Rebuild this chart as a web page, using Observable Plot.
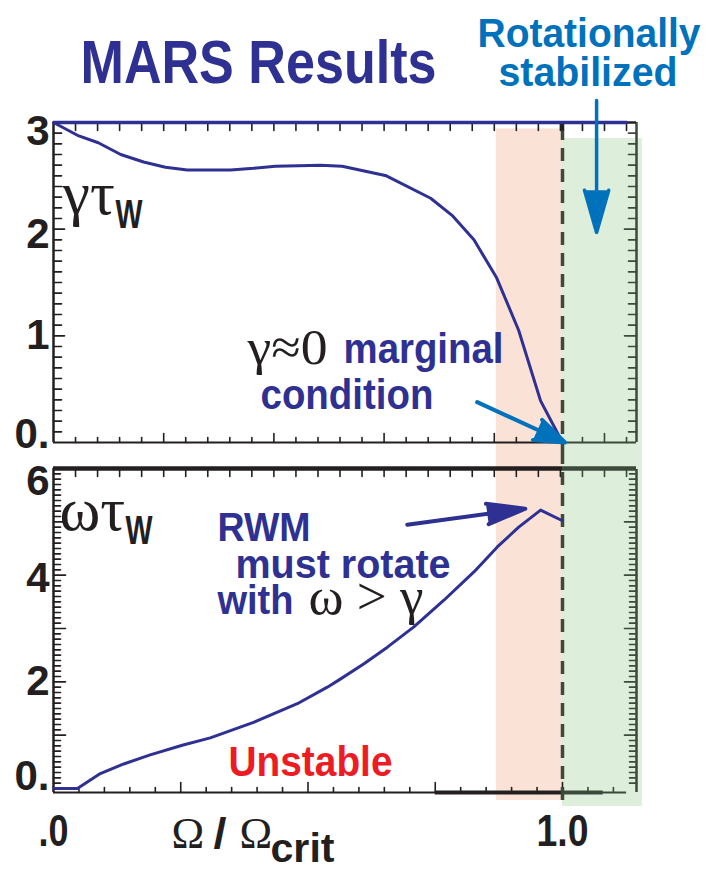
<!DOCTYPE html>
<html><head><meta charset="utf-8">
<script src="https://cdn.jsdelivr.net/npm/d3@7"></script>
<script src="https://cdn.jsdelivr.net/npm/@observablehq/plot@0.6"></script>
<style>
html,body{margin:0;padding:0;background:#fff;}
#chart{position:relative;width:715px;height:870px;overflow:hidden;}
#chart svg{position:absolute;left:0;overflow:visible;}
</style></head><body><div id="chart"></div>
<script>
// ---------- data ----------
const growthX   = [0, 0.047, 0.088, 0.132, 0.177, 0.22, 0.263, 0.348, 0.393, 0.436, 0.525, 0.567, 0.654, 0.741, 0.783, 0.826, 0.870, 0.914, 0.957, 1.0];
const growthY   = [3.0, 2.88, 2.81, 2.70, 2.63, 2.58, 2.555, 2.555, 2.57, 2.59, 2.60, 2.59, 2.50, 2.29, 2.13, 1.90, 1.55, 1.05, 0.39, 0.0];
const rotationX = [0, 0.047, 0.092, 0.138, 0.19, 0.253, 0.308, 0.393, 0.479, 0.538, 0.565, 0.61, 0.656, 0.708, 0.767, 0.826, 0.872, 0.914, 0.957, 1.0];
const rotationY = [0, 0, 0.28, 0.46, 0.63, 0.81, 0.95, 1.24, 1.59, 1.90, 2.06, 2.34, 2.65, 3.03, 3.53, 4.06, 4.53, 4.90, 5.22, 5.02];
const growthCeiling = [3];          // γτw level drawn across the top
const unstableBand = [0.87, 1.0];   // Ω/Ωcrit range shaded salmon
const stableBand   = [1.0, 1.157];  // Ω/Ωcrit range shaded green
const criticalRot  = [1.0];
const topYTicks    = [0, 1, 2, 3];
const bottomYTicks = [0, 2, 4, 6];
const xTickValues  = [0, 1];
const xTickLabels  = [".0", "1.0"];

// ---------- styles ----------
const NAVY = "#2e3192", BLUE = "#0072bc", RED = "#ed1c24", INK = "#231f20";
const SALMON = "#fbe2d6", GREEN = "#ddeedb", DKGREEN = "#3b4a3b";
const NARROW = "'Liberation Sans Narrow', 'Liberation Sans', Arial, sans-serif";
const SANS = "'Liberation Sans', Arial, sans-serif";
const SERIF = "'Liberation Serif', 'DejaVu Serif', serif";
const X_MAX = 1.1454;
// rendered widths (px) of the condensed labels
const CONDENSED = {"MARS Results": 356, "Rotationally": 223, "stabilized": 179, "marginal": 160, "condition": 173,
  "RWM": 93, "must rotate": 215, "with": 76, "Unstable": 164, "W": 27, "crit": 64, "/": 13, ".0": 30, "1.0": 52,
  "γ≈0": 80, "ω > γ": 115};

const tickShape = {draw(ctx, l) { ctx.moveTo(0, 0); ctx.lineTo(0, -l); }};
const frac = (n, d) => d3.range(1, n).map(i => i / d);
function ticks(values, o) {
  return Plot.vector(values, {anchor: "start", shape: tickShape, strokeWidth: 1.6, stroke: INK, ...o});
}
function label(text, o) {
  return Plot.text([text], {frameAnchor: "top-left", textAnchor: "start", lineAnchor: "bottom", text: d => d, ...o});
}
function bold(text, o) {
  return label(text, {fontWeight: "bold", fontFamily: NARROW, ...o});
}
function yLabels(values, offsets) {
  return values.map(t => Plot.axisY([t], {
    anchor: "left", tickSize: 0, tickPadding: 4, fontSize: 42, fontWeight: "bold",
    fontFamily: SANS, fill: INK, dy: offsets[t] || 0,
    tickFormat: d => d === 0 ? "0." : String(d)
  }));
}
function condense(svg) {
  svg.querySelectorAll("text").forEach(t => {
    const w = CONDENSED[t.textContent];
    if (w) { t.setAttribute("textLength", w); t.setAttribute("lengthAdjust", "spacingAndGlyphs"); }
  });
}

// top panel tick positions (frame decorations)
const topFrameX = d3.range(1, 27).map(i => i * 0.0433);
const topFrameXMajor = topFrameX.filter((d, i) => (i + 1) % 5 === 0);
const topFrameXMinor = topFrameX.filter((d, i) => (i + 1) % 5 !== 0);
const tenthsA = frac(30, 10).filter(d => Math.abs(d - Math.round(d)) > 1e-6);
const unitsA = [1, 2];

const chart = document.getElementById("chart");

// ---------- top panel: γτw ----------
const topPlot = Plot.plot({
  width: 715, height: 455,
  marginLeft: 53, marginRight: 79, marginTop: 122, marginBottom: 13,
  x: {domain: [0, X_MAX], axis: null},
  y: {domain: [0, 3]},
  style: {background: "transparent", overflow: "visible", fontFamily: NARROW},
  marks: [
    Plot.rect([0], {x1: unstableBand[0], x2: unstableBand[1], y1: -0.122, y2: 2.94, fill: SALMON}),
    Plot.rect([0], {x1: stableBand[0], x2: stableBand[1], y1: -0.122, y2: 2.85, fill: GREEN}),
    // frame
    Plot.ruleX([0], {y1: 0, y2: 3, stroke: INK, strokeWidth: 2.5}),
    Plot.ruleX([X_MAX], {y1: 0, y2: 3, stroke: DKGREEN, strokeWidth: 2.5}),
    Plot.ruleY([0], {x1: 0, x2: 1.0, stroke: INK, strokeWidth: 2}),
    Plot.ruleY([0], {x1: 1.0, x2: X_MAX, stroke: DKGREEN, strokeWidth: 2}),
    Plot.ruleY([3], {x1: 1.12, x2: X_MAX, stroke: INK, strokeWidth: 2.5}),
    ticks(tenthsA, {x: 0, y: d => d, rotate: 90, length: 8}),
    ticks(unitsA, {x: 0, y: d => d, rotate: 90, length: 11}),
    ticks(tenthsA, {x: X_MAX, y: d => d, rotate: -90, length: 8, stroke: DKGREEN}),
    ticks(unitsA, {x: X_MAX, y: d => d, rotate: -90, length: 12, stroke: DKGREEN}),
    ticks(topFrameXMinor, {x: d => d, y: 0, rotate: 0, length: 5, stroke: d => d > 1 ? DKGREEN : INK}),
    ticks(topFrameXMajor, {x: d => d, y: 0, rotate: 0, length: 9, stroke: d => d > 1 ? DKGREEN : INK}),
    ticks(topFrameX, {x: d => d, y: 3, rotate: 180, length: 8}),
    // critical rotation line
    Plot.ruleX(criticalRot, {y1: -0.122, y2: 2.93, stroke: DKGREEN, strokeWidth: 3.5, strokeDasharray: "13,8"}),
    Plot.ruleX(criticalRot, {y1: 2.92, y2: 3, stroke: INK, strokeWidth: 3.5}),
    // data
    Plot.ruleY(growthCeiling, {x1: 0, x2: 1.128, stroke: NAVY, strokeWidth: 3.5}),
    Plot.line(growthY, {x: growthX, y: d => d, stroke: NAVY, strokeWidth: 3}),
    ...yLabels(topYTicks, {3: 9, 2: 5, 1: 0, 0: -8}),
    // annotations
    Plot.arrow([0], {x1: 1.067, y1: 3.206, x2: 1.067, y2: 1.969, stroke: BLUE, fill: BLUE, strokeWidth: 3.5, headLength: 20, headAngle: 32}),
    Plot.arrow([0], {x1: 0.8324, y1: 0.378, x2: 1.005, y2: 0.0, stroke: BLUE, fill: BLUE, strokeWidth: 4, headLength: 20, headAngle: 40}),
    bold("MARS Results", {dx: 27, dy: -40, fontSize: 62, fill: NAVY}),
    bold("Rotationally", {dx: 424, dy: -76, fontSize: 40, fill: BLUE}),
    bold("stabilized", {dx: 445, dy: -37, fontSize: 40, fill: BLUE}),
    label("γτ", {dx: 9, dy: 91, fontSize: 62, fill: INK, fontFamily: SERIF}),
    bold("W", {dx: 62, dy: 105, fontSize: 40, fill: INK}),
    label("γ≈0", {dx: 194, dy: 241, fontSize: 50, fill: INK, fontFamily: SERIF}),
    bold("marginal", {dx: 290, dy: 240, fontSize: 42, fill: NAVY}),
    bold("condition", {dx: 207, dy: 286, fontSize: 42, fill: NAVY})
  ]
});
topPlot.style.top = "0px";
chart.appendChild(topPlot);
condense(topPlot);

// ---------- bottom panel: ωτw ----------
const bottomFrameX = d3.range(1, 23).map(i => i * 0.05);
const bottomFrameXMajor = bottomFrameX.filter((d, i) => (i + 1) % 5 === 0);
const bottomFrameXMinor = bottomFrameX.filter((d, i) => (i + 1) % 5 !== 0);
const tenthsB = frac(60, 10).filter(d => Math.abs(d - Math.round(d)) > 1e-6);
const unitsB = [1, 2, 3, 4, 5];
const Y_BOT = -0.075;

const bottomPlot = Plot.plot({
  width: 715, height: 415,
  marginLeft: 53, marginRight: 79, marginTop: 13, marginBottom: 78,
  x: {domain: [0, X_MAX]},
  y: {domain: [Y_BOT, 6]},
  style: {background: "transparent", overflow: "visible", fontFamily: NARROW},
  marks: [
    Plot.rect([0], {x1: unstableBand[0], x2: unstableBand[1], y1: -0.225, y2: 6.244, fill: SALMON}),
    Plot.rect([0], {x1: stableBand[0], x2: stableBand[1], y1: -0.3375, y2: 6.244, fill: GREEN}),
    // frame
    Plot.ruleX([0], {y1: Y_BOT, y2: 6, stroke: INK, strokeWidth: 2.5}),
    Plot.ruleX([X_MAX], {y1: Y_BOT, y2: 5.98, stroke: DKGREEN, strokeWidth: 2.5}),
    Plot.ruleY([Y_BOT], {x1: 0, x2: 1.0, stroke: INK, strokeWidth: 2}),
    Plot.ruleY([Y_BOT], {x1: 1.0, x2: 1.126, stroke: DKGREEN, strokeWidth: 2}),
    Plot.ruleY([Y_BOT], {x1: 0.75, x2: 1.0, stroke: INK, strokeWidth: 4}),
    Plot.ruleY([Y_BOT], {x1: 1.0, x2: 1.08, stroke: DKGREEN, strokeWidth: 4}),
    ticks(tenthsB, {x: 0, y: d => d, rotate: 90, length: 7}),
    ticks(unitsB, {x: 0, y: d => d, rotate: 90, length: 12}),
    ticks(tenthsB, {x: X_MAX, y: d => d, rotate: -90, length: 7, stroke: DKGREEN}),
    ticks(unitsB, {x: X_MAX, y: d => d, rotate: -90, length: 12, stroke: DKGREEN}),
    ticks(bottomFrameXMinor, {x: d => d, y: Y_BOT, rotate: 0, length: 5, stroke: d => d > 1 ? DKGREEN : INK}),
    ticks(bottomFrameXMajor, {x: d => d, y: Y_BOT, rotate: 0, length: 10, stroke: d => d > 1 ? DKGREEN : INK}),
    ticks(topFrameX, {x: d => d, y: 6, rotate: 180, length: 8, stroke: d => d > 1 ? DKGREEN : INK}),
    Plot.ruleY([6], {x1: 0, x2: 1.0, stroke: INK, strokeWidth: 4.5}),
    Plot.ruleY([6], {x1: 1.0, x2: X_MAX, stroke: DKGREEN, strokeWidth: 4.5}),
    // critical rotation line
    Plot.ruleX(criticalRot, {y1: -0.225, y2: 6.244, stroke: DKGREEN, strokeWidth: 3.5, strokeDasharray: "13,8"}),
    // data
    Plot.line(rotationY, {x: rotationX, y: d => d, stroke: NAVY, strokeWidth: 3}),
    // axes
    ...yLabels(bottomYTicks, {6: 13, 4: 3, 2: 0, 0: -12}),
    Plot.axisX(xTickValues, {anchor: "bottom", tickSize: 0, tickPadding: 22, fontSize: 44, fontWeight: "bold",
      fontFamily: NARROW, fill: INK, tickFormat: d => xTickLabels[xTickValues.indexOf(d)]}),
    // annotations
    Plot.arrow([0], {x1: 0.695, y1: 4.944, x2: 0.927, y2: 5.245, stroke: NAVY, fill: NAVY, strokeWidth: 4, headLength: 20, headAngle: 30}),
    label("ωτ", {dx: 6, dy: 61, fontSize: 62, fill: INK, fontFamily: SERIF}),
    bold("W", {dx: 72, dy: 75, fontSize: 40, fill: INK}),
    bold("RWM", {dx: 164, dy: 72, fontSize: 40, fill: NAVY}),
    bold("must rotate", {dx: 182, dy: 109, fontSize: 40, fill: NAVY}),
    bold("with", {dx: 164, dy: 145, fontSize: 40, fill: NAVY}),
    label("ω > γ", {dx: 255, dy: 145, fontSize: 52, fill: INK, fontFamily: SERIF}),
    bold("Unstable", {dx: 175, dy: 307, fontSize: 42, fill: RED}),
    label("Ω", {dx: 118, dy: 379, fontSize: 44, fill: INK, fontFamily: SERIF}),
    bold("/", {dx: 160, dy: 379, fontSize: 42, fill: INK}),
    label("Ω", {dx: 186, dy: 379, fontSize: 44, fill: INK, fontFamily: SERIF}),
    bold("crit", {dx: 217, dy: 393, fontSize: 40, fill: INK})
  ]
});
bottomPlot.style.top = "455px";
chart.appendChild(bottomPlot);
condense(bottomPlot);
</script></body></html>
